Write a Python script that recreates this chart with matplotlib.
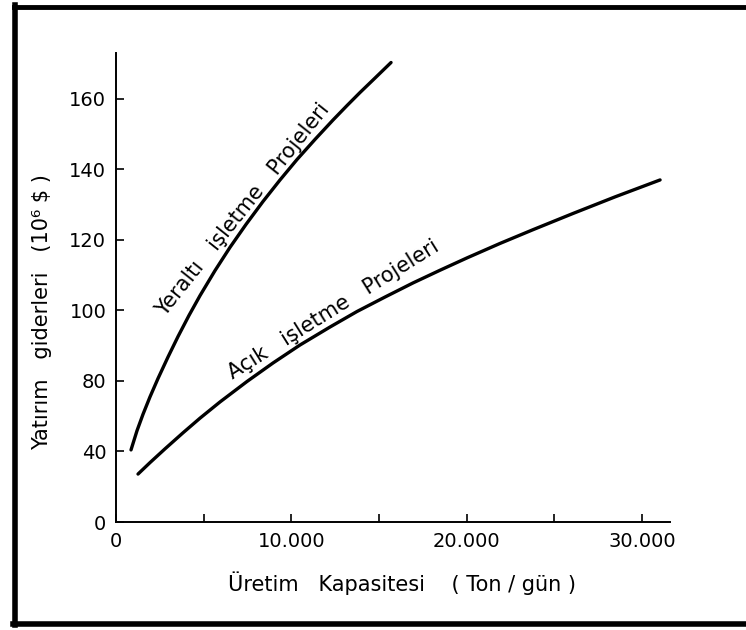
import numpy as np
import matplotlib
matplotlib.use("Agg")
import matplotlib.pyplot as plt
from matplotlib.lines import Line2D

# Veriler
yeralti_x = [856, 1198, 1540, 1940, 2396, 2967, 3537, 4165, 4792, 5648, 6504,
             7417, 8386, 9356, 10326, 11353, 12380, 13179, 13920, 14776, 15689]
yeralti_y = [40.9, 51.8, 61.1, 71.0, 80.7, 86.8, 92.6, 98.6, 104.2, 111.3, 117.9,
             124.4, 130.9, 137.0, 142.8, 148.5, 154.0, 158.1, 161.8, 165.9, 170.3]

acik_x = [1255, 1940, 2795, 3822, 4792, 5933, 7473, 8957, 10497, 12209, 13749,
          15346, 16944, 18484, 20025, 21907, 23790, 26072, 28468, 31035]
acik_y = [27.2, 33.7, 41.5, 50.6, 58.9, 68.1, 79.7, 85.1, 90.2, 95.3, 99.7,
          103.8, 107.8, 111.4, 114.9, 119.0, 122.9, 127.5, 132.2, 137.0]

x_ticks = [0, 5000, 10000, 15000, 20000, 25000, 30000]
x_tick_labels = ["0", "", "10.000", "", "20.000", "", "30.000"]
y_ticks = [0, 40, 80, 100, 120, 140, 160]
y_tick_labels = ["0", "40", "80", "100", "120", "140", "160"]


def ileri(v):
    """Kirik eksen: 0-80 arasi 40'ar, 80 ustu 20'ser birim"""
    v = np.asarray(v, dtype=float)
    return np.where(v <= 80, v / 40.0, 2 + (v - 80) / 20.0)


def geri(p):
    p = np.asarray(p, dtype=float)
    return np.where(p <= 2, p * 40.0, 80 + (p - 2) * 20.0)


plt.rcParams["font.family"] = ["DejaVu Sans"]

fig = plt.figure(figsize=(7.46, 6.30), dpi=100)
ax = fig.add_axes([0.1555, 0.1714, 0.7426, 0.7445])

ax.set_yscale("function", functions=(ileri, geri))
ax.plot(yeralti_x, yeralti_y, color="black", lw=2.4, solid_capstyle="round")
ax.plot(acik_x, acik_y, color="black", lw=2.4, solid_capstyle="round")

ax.set_xlim(0, 31600)
ax.set_ylim(0, 173)

ax.set_xticks(x_ticks)
ax.set_xticklabels(x_tick_labels)
ax.set_yticks(y_ticks)
ax.set_yticklabels(y_tick_labels)
ax.minorticks_off()
ax.tick_params(direction="in", length=6, width=1.2, labelsize=14, pad=7)

for s in ["top", "right"]:
    ax.spines[s].set_visible(False)
for s in ["left", "bottom"]:
    ax.spines[s].set_linewidth(1.4)

# Egri etiketleri
ax.text(7245, 128.5, "Yeraltı   işletme   Projeleri", rotation=51.5,
        rotation_mode="anchor", ha="center", va="center", fontsize=15)
ax.text(12379, 100.2, "Açık   işletme   Projeleri", rotation=32,
        rotation_mode="anchor", ha="center", va="center", fontsize=15)

# Eksen basliklari
fig.text(402 / 746, 1 - 583 / 630, "Üretim   Kapasitesi    ( Ton / gün )",
         ha="center", va="center", fontsize=15)
fig.text(42 / 746, 1 - 312 / 630, "Yatırım   giderleri   (10⁶ \\$ )",
         ha="center", va="center", rotation=90, fontsize=15)

# Cerceve
fig.add_artist(Line2D([14 / 746, 1.0], [1 - 7 / 630, 1 - 7 / 630],
                      transform=fig.transFigure, color="black", lw=3.5))
fig.add_artist(Line2D([15 / 746, 15 / 746], [1 - 5 / 630, 1 - 625 / 630],
                      transform=fig.transFigure, color="black", lw=4))
fig.add_artist(Line2D([13 / 746, 1.0], [1 - 624 / 630, 1 - 624 / 630],
                      transform=fig.transFigure, color="black", lw=4))

fig.savefig("out.png", dpi=100)
